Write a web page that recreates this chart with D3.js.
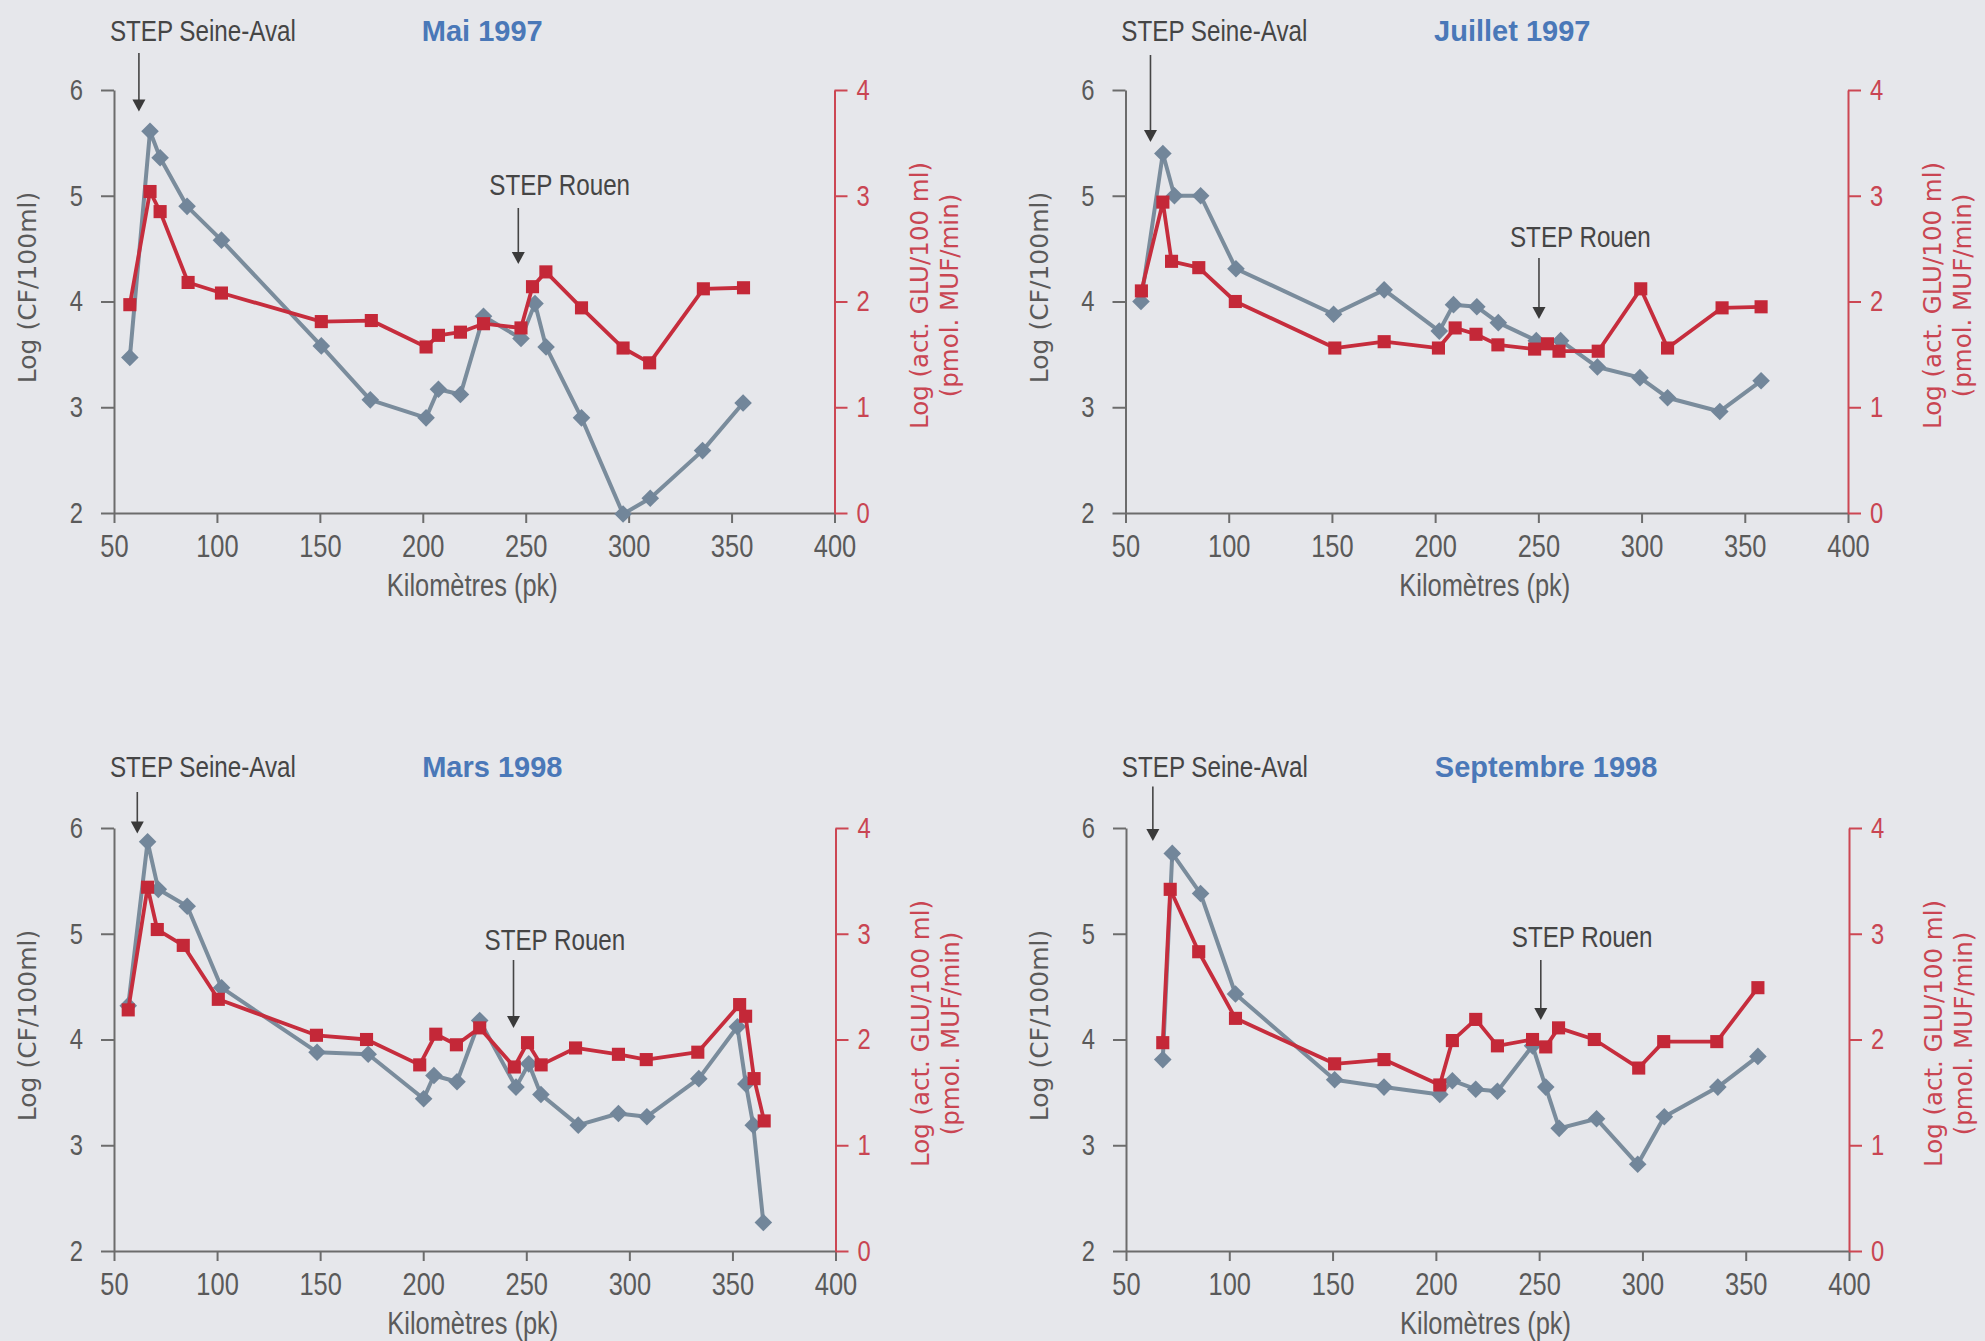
<!DOCTYPE html>
<html><head><meta charset="utf-8">
<script src="https://cdn.jsdelivr.net/npm/d3@7"></script>
<style>
html,body{margin:0;padding:0;background:#e6e7eb;}
svg{display:block;}
</style></head>
<body>
<svg id="chart" width="1985" height="1341"></svg>
<script>
// ---------- DATA ----------
const panelTitles = ["Mai 1997", "Juillet 1997", "Mars 1998", "Septembre 1998"];
const xTickValues = [50, 100, 150, 200, 250, 300, 350, 400];
const leftTickValues = [2, 3, 4, 5, 6];
const rightTickValues = [0, 1, 2, 3, 4];

// Mai 1997
const kmMaiCF  = [57.7, 67.5, 72.4, 85.5, 102.2, 150.7, 174.5, 201.6, 207.6, 218.3, 229.5, 247.7, 254.5, 259.9, 277.1, 297.3, 310.5, 335.9, 355.6];
const cfMai    = [3.47, 5.61, 5.36, 4.90, 4.58, 3.58, 3.07, 2.90, 3.17, 3.12, 3.86, 3.65, 3.98, 3.57, 2.90, 1.99, 2.14, 2.59, 3.04];
const kmMaiGLU = [57.7, 67.5, 72.4, 86.0, 102.2, 150.7, 175.0, 201.6, 207.6, 218.3, 229.5, 247.7, 253.3, 259.8, 277.1, 297.3, 310.2, 336.3, 355.8];
const gluMai   = [1.97, 3.04, 2.85, 2.18, 2.08, 1.81, 1.82, 1.57, 1.68, 1.71, 1.79, 1.75, 2.14, 2.28, 1.94, 1.56, 1.42, 2.12, 2.13];

// Juillet 1997
const kmJulCF  = [57.5, 68.1, 73.7, 86.4, 103.5, 150.8, 175.3, 202.0, 208.9, 220.2, 230.6, 249.0, 260.8, 278.6, 299.2, 312.6, 337.9, 357.9];
const cfJul    = [4.00, 5.40, 5.00, 5.00, 4.31, 3.88, 4.11, 3.72, 3.97, 3.95, 3.80, 3.63, 3.63, 3.38, 3.28, 3.09, 2.96, 3.25];
const kmJulGLU = [57.7, 68.1, 72.3, 85.5, 103.2, 151.4, 175.3, 201.6, 209.7, 219.8, 230.4, 248.2, 254.4, 260.0, 279.0, 299.6, 312.6, 339.0, 357.9];
const gluJul   = [2.10, 2.94, 2.38, 2.32, 2.00, 1.56, 1.62, 1.56, 1.75, 1.69, 1.59, 1.55, 1.60, 1.53, 1.53, 2.12, 1.56, 1.94, 1.95];

// Mars 1998
const kmMarCF  = [56.9, 66.3, 71.5, 85.5, 102.2, 148.5, 173.3, 200.2, 205.2, 216.4, 227.4, 245.0, 251.2, 257.1, 275.2, 294.7, 308.5, 333.7, 352.4, 356.5, 360.1, 365.0];
const cfMar    = [4.32, 5.87, 5.42, 5.26, 4.49, 3.88, 3.86, 3.44, 3.66, 3.60, 4.18, 3.55, 3.77, 3.48, 3.19, 3.30, 3.27, 3.63, 4.12, 3.58, 3.19, 2.27];
const kmMarGLU = [56.9, 66.3, 71.0, 83.6, 100.6, 148.2, 172.5, 198.3, 206.1, 216.1, 227.4, 244.2, 250.6, 257.2, 273.9, 294.7, 308.2, 333.2, 353.5, 356.4, 360.5, 365.4];
const gluMar   = [2.28, 3.44, 3.04, 2.89, 2.38, 2.04, 2.00, 1.76, 2.05, 1.95, 2.11, 1.74, 1.97, 1.76, 1.92, 1.86, 1.81, 1.88, 2.33, 2.22, 1.63, 1.23];

// Septembre 1998
const kmSepCF  = [67.8, 72.4, 86.1, 103.0, 151.0, 174.9, 201.9, 208.0, 219.3, 229.8, 246.8, 253.2, 259.7, 277.8, 297.7, 310.6, 336.5, 355.9];
const cfSep    = [3.81, 5.76, 5.38, 4.43, 3.62, 3.55, 3.48, 3.61, 3.53, 3.51, 3.94, 3.55, 3.16, 3.25, 2.82, 3.27, 3.55, 3.84];
const kmSepGLU = [67.8, 71.4, 85.2, 103.0, 151.0, 174.9, 201.9, 208.0, 219.3, 229.8, 246.8, 253.2, 259.4, 276.7, 298.2, 310.3, 336.0, 355.9];
const gluSep   = [1.97, 3.42, 2.83, 2.20, 1.77, 1.81, 1.57, 1.99, 2.19, 1.94, 2.00, 1.93, 2.11, 2.00, 1.73, 1.98, 1.98, 2.49];

// station annotations (km)
const seineAvalKm = [62.1, 62.1, 61.3, 63.0];
const rouenKm     = [246.4, 250.3, 243.8, 250.8];
const labelSeineAval = "STEP Seine-Aval";
const labelRouen = "STEP Rouen";
const xTitle = "Kilomètres (pk)";
const yTitleLeft = "Log (CF/100ml)";
const yTitleRight1 = "Log (act. GLU/100 ml)";
const yTitleRight2 = "(pmol. MUF/min)";

// ---------- LAYOUT ----------
const panels = [
  {title: panelTitles[0], kmCF: kmMaiCF, cf: cfMai, kmGLU: kmMaiGLU, glu: gluMai,
   xr: [114, 834.5], yr: [513, 90], sa: seineAvalKm[0], ro: rouenKm[0],
   saArrow: [53, 111.5], roArrow: [208, 264], roLabelY: 195, topLabelY: 41},
  {title: panelTitles[1], kmCF: kmJulCF, cf: cfJul, kmGLU: kmJulGLU, glu: gluJul,
   xr: [1125.5, 1848], yr: [513, 90], sa: seineAvalKm[1], ro: rouenKm[1],
   saArrow: [55, 142], roArrow: [258, 319], roLabelY: 246.5, topLabelY: 41},
  {title: panelTitles[2], kmCF: kmMarCF, cf: cfMar, kmGLU: kmMarGLU, glu: gluMar,
   xr: [114, 835.5], yr: [1251, 828], sa: seineAvalKm[2], ro: rouenKm[2],
   saArrow: [792, 833.5], roArrow: [960, 1028], roLabelY: 950, topLabelY: 777},
  {title: panelTitles[3], kmCF: kmSepCF, cf: cfSep, kmGLU: kmSepGLU, glu: gluSep,
   xr: [1126, 1849], yr: [1251, 828], sa: seineAvalKm[3], ro: rouenKm[3],
   saArrow: [786.5, 841], roArrow: [960, 1020], roLabelY: 947, topLabelY: 777}
];

const C = {
  gray: "#7a8c9c", grayMark: "#72869a",
  red: "#c62d3d", redMark: "#c42838",
  axis: "#6c6c6c", tick: "#5a5a5a",
  redAxis: "#cc4753", redText: "#c94552",
  title: "#4a78b8", annot: "#454545"
};
const sans = "'Liberation Sans',Arial,sans-serif";
const wide = "'DejaVu Sans','Liberation Sans',sans-serif";

const svg = d3.select("#chart");

panels.forEach(p => {
  const x = d3.scaleLinear().domain([50, 400]).range(p.xr);
  const yL = d3.scaleLinear().domain([2, 6]).range(p.yr);
  const yR = d3.scaleLinear().domain([0, 4]).range(p.yr);
  const g = svg.append("g");

  // bottom axis
  const gx = g.append("g").attr("transform", `translate(0,${p.yr[0]})`)
    .call(d3.axisBottom(x).tickValues(xTickValues).tickSize(10).tickSizeOuter(0).tickFormat(d3.format("d")));
  gx.select(".domain").attr("stroke", C.axis).attr("stroke-width", 2);
  gx.selectAll(".tick line").attr("stroke", C.axis).attr("stroke-width", 2);
  gx.selectAll(".tick text").attr("y", 44).attr("dy", null).classed("cond", true)
    .attr("fill", C.tick).style("font-family", sans).style("font-size", "31px");

  // left axis
  const gl = g.append("g").attr("transform", `translate(${p.xr[0]},0)`)
    .call(d3.axisLeft(yL).tickValues(leftTickValues).tickSize(13).tickSizeOuter(0).tickPadding(18).tickFormat(d3.format("d")));
  gl.select(".domain").attr("stroke", C.axis).attr("stroke-width", 2);
  gl.selectAll(".tick line").attr("stroke", C.axis).attr("stroke-width", 2);
  gl.selectAll(".tick text").classed("cond", true).attr("fill", C.tick).style("font-family", sans).style("font-size", "29px");

  // right axis
  const gr = g.append("g").attr("transform", `translate(${p.xr[1]},0)`)
    .call(d3.axisRight(yR).tickValues(rightTickValues).tickSize(13).tickSizeOuter(0).tickPadding(9).tickFormat(d3.format("d")));
  gr.select(".domain").attr("stroke", C.redAxis).attr("stroke-width", 2);
  gr.selectAll(".tick line").attr("stroke", C.redAxis).attr("stroke-width", 2);
  gr.selectAll(".tick text").classed("cond", true).attr("fill", C.redText).style("font-family", sans).style("font-size", "29px");

  // axis titles
  const xc = (p.xr[0] + p.xr[1]) / 2;
  const yc = (p.yr[0] + p.yr[1]) / 2;
  g.append("text").text(xTitle).attr("class", "cond").attr("x", xc - 2).attr("y", p.yr[0] + 83)
    .attr("text-anchor", "middle").attr("fill", C.tick)
    .style("font-family", sans).style("font-size", "31px");
  g.append("text").text(yTitleLeft)
    .attr("transform", `translate(${p.xr[0] - 78},${yc - 14}) rotate(-90)`)
    .attr("text-anchor", "middle").attr("fill", C.tick)
    .style("font-family", wide).style("font-size", "25px");
  g.append("text").text(yTitleRight1)
    .attr("transform", `translate(${p.xr[1] + 93},${yc - 6}) rotate(-90)`)
    .attr("text-anchor", "middle").attr("fill", C.redText)
    .style("font-family", wide).style("font-size", "24.5px");
  g.append("text").text(yTitleRight2)
    .attr("transform", `translate(${p.xr[1] + 123},${yc - 6}) rotate(-90)`)
    .attr("text-anchor", "middle").attr("fill", C.redText)
    .style("font-family", wide).style("font-size", "24.5px");

  // series
  const cfData = p.kmCF.map((k, i) => [k, p.cf[i]]);
  const gluData = p.kmGLU.map((k, i) => [k, p.glu[i]]);
  g.append("path").datum(cfData)
    .attr("d", d3.line().x(d => x(d[0])).y(d => yL(d[1])))
    .attr("fill", "none").attr("stroke", C.gray).attr("stroke-width", 4).attr("stroke-linejoin", "round");
  g.selectAll(".dia").data(cfData).join("path")
    .attr("transform", d => `translate(${x(d[0])},${yL(d[1])}) rotate(45)`)
    .attr("d", d3.symbol(d3.symbolSquare, 155)())
    .attr("fill", C.grayMark);
  g.append("path").datum(gluData)
    .attr("d", d3.line().x(d => x(d[0])).y(d => yR(d[1])))
    .attr("fill", "none").attr("stroke", C.red).attr("stroke-width", 3.8).attr("stroke-linejoin", "round");
  g.selectAll(".sq").data(gluData).join("path")
    .attr("transform", d => `translate(${x(d[0])},${yR(d[1])})`)
    .attr("d", d3.symbol(d3.symbolSquare, 172)())
    .attr("fill", C.redMark);

  // annotations
  g.append("text").text(labelSeineAval).attr("class", "cond").attr("x", x(48)).attr("y", p.topLabelY)
    .attr("fill", C.annot).style("font-family", sans).style("font-size", "29.5px");
  g.append("text").text(p.title).attr("x", x(199.5)).attr("y", p.topLabelY)
    .attr("fill", C.title).style("font-family", sans)
    .style("font-weight", "bold").style("font-size", "29px");
  g.append("text").text(labelRouen).attr("class", "cond").attr("x", x(p.ro) - 29).attr("y", p.roLabelY)
    .attr("fill", C.annot).style("font-family", sans).style("font-size", "29.5px");

  const arrow = (km, ys) => {
    const ax = x(km);
    g.append("line").attr("x1", ax).attr("x2", ax).attr("y1", ys[0]).attr("y2", ys[1] - 10)
      .attr("stroke", C.annot).attr("stroke-width", 1.6);
    g.append("path")
      .attr("d", d3.line()([[ax - 6.5, ys[1] - 12], [ax + 6.5, ys[1] - 12], [ax, ys[1]]]) + "Z")
      .attr("fill", "#3a3a3a");
  };
  arrow(p.sa, p.saArrow);
  arrow(p.ro, p.roArrow);
});

// condense narrow-font texts horizontally (Arial Narrow proportions)
svg.selectAll("text.cond").each(function () {
  const w = this.getComputedTextLength();
  d3.select(this).attr("textLength", w * 0.82).attr("lengthAdjust", "spacingAndGlyphs");
});
</script>
</body></html>
